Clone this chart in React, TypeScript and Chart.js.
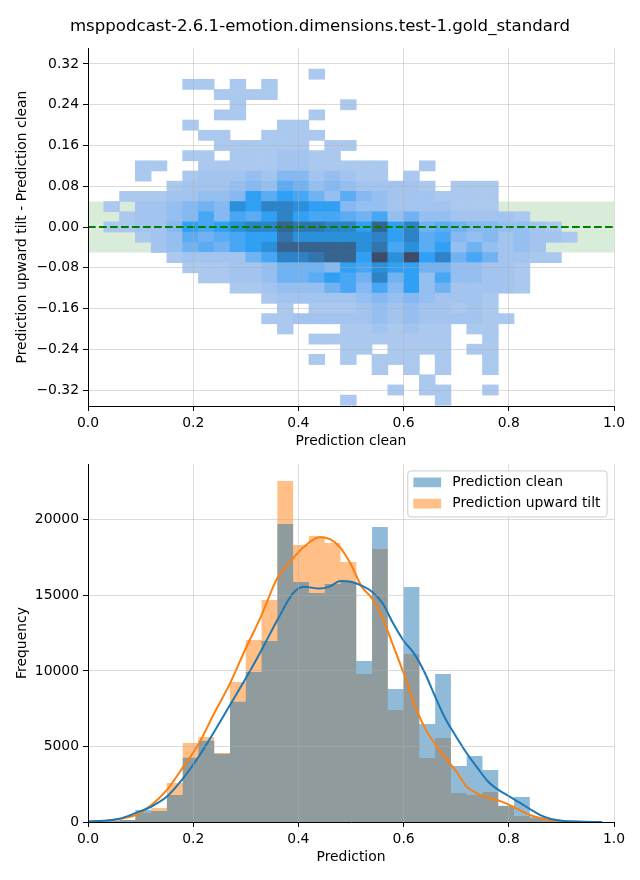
import React, { useEffect, useRef } from "react";
import { Chart, registerables } from "chart.js";

Chart.register(...registerables);

// ---------------- text ----------------
const FIG_TITLE = "msppodcast-2.6.1-emotion.dimensions.test-1.gold_standard";
const HEAT_X_TITLE = "Prediction clean";
const HEAT_Y_TITLE = "Prediction upward tilt - Prediction clean";
const HIST_X_TITLE = "Prediction";
const HIST_Y_TITLE = "Frequency";
const SERIES_LABELS = ["Prediction clean", "Prediction upward tilt"];

// ---------------- ticks ----------------
const xTickValues = [0, 0.2, 0.4, 0.6, 0.8, 1.0];
const diffTickValues = [-0.32, -0.24, -0.16, -0.08, 0, 0.08, 0.16, 0.24, 0.32];
const freqTickValues = [0, 5000, 10000, 15000, 20000];

// ---------------- bins ----------------
const predBinWidth = 0.03; // width of a prediction bin
const diffBinHeight = 0.02; // height of a difference bin
const toleranceBand = [-0.05, 0.05];
const diffRange = [-0.3514, 0.3514];
const freqMax = 23700;

// difference-bin index (centre = index * diffBinHeight), one row of heatLevels each
const diffRowIndex = [15, 14, 13, 12, 11, 10, 9, 8, 7, 6, 5, 4, 3, 2, 1, 0, -1, -2, -3, -4, -5, -6, -7, -8, -9, -10, -11, -12, -13, -14, -15, -16, -17];

// density level (0 = empty) per prediction bin k = 0..30
const heatLevels: number[][] = [
  [0,0,0,0,0,0,0,0,0,0,0,0,0,0,1,0,0,0,0,0,0,0,0,0,0,0,0,0,0,0,0],
  [0,0,0,0,0,0,1,1,0,1,0,1,0,0,0,0,0,0,0,0,0,0,0,0,0,0,0,0,0,0,0],
  [0,0,0,0,0,0,0,0,1,1,1,1,0,0,0,0,0,0,0,0,0,0,0,0,0,0,0,0,0,0,0],
  [0,0,0,0,0,0,0,0,0,1,0,0,0,0,0,0,1,0,0,0,0,0,0,0,0,0,0,0,0,0,0],
  [0,0,0,0,0,0,0,0,1,1,0,0,0,0,1,0,0,0,0,0,0,0,0,0,0,0,0,0,0,0,0],
  [0,0,0,0,0,0,1,0,0,0,0,0,1,1,0,0,0,0,0,0,0,0,0,0,0,0,0,0,0,0,0],
  [0,0,0,0,0,0,0,1,1,0,0,1,1,1,1,0,0,0,0,0,0,0,0,0,0,0,0,0,0,0,0],
  [0,0,0,0,0,0,0,0,1,1,1,1,1,1,0,1,1,0,0,0,0,0,0,0,0,0,0,0,0,0,0],
  [0,0,0,0,0,0,1,1,0,1,1,1,2,2,1,1,0,0,0,0,0,0,0,0,0,0,0,0,0,0,0],
  [0,0,0,1,1,0,0,1,1,1,1,1,2,2,1,1,1,1,1,0,0,1,0,0,0,0,0,0,0,0,0],
  [0,0,0,1,0,0,1,2,2,2,3,2,4,4,2,3,2,1,1,0,1,0,0,0,0,0,0,0,0,0,0],
  [0,0,0,0,0,1,2,2,2,3,4,3,6,5,3,4,3,2,2,2,2,1,0,1,1,1,0,0,0,0,0],
  [0,0,1,1,1,2,2,3,3,4,8,6,8,7,5,3,6,4,3,2,2,2,1,1,1,1,0,0,0,0,0],
  [0,1,0,2,2,3,4,5,4,9,8,10,10,9,8,8,4,3,3,2,2,2,2,1,1,1,0,0,0,0,0],
  [0,0,1,2,2,3,4,7,4,7,6,8,10,8,7,7,6,5,7,3,5,3,3,2,2,2,2,1,0,0,0],
  [0,1,1,2,2,4,8,7,8,9,10,10,12,11,11,10,10,8,12,8,10,5,6,5,4,4,3,3,2,1,0],
  [0,0,0,1,2,3,6,5,6,7,8,8,11,9,9,9,9,9,10,8,10,6,7,4,3,4,2,3,2,2,1],
  [0,0,0,0,2,3,5,6,5,7,8,9,12,12,12,12,12,9,11,7,9,6,8,3,5,3,2,3,2,0,0],
  [0,0,0,0,0,1,2,2,2,2,5,7,10,10,11,12,12,8,13,9,13,8,10,5,7,5,2,2,1,1,0],
  [0,0,0,0,0,0,1,1,1,2,2,3,5,5,5,4,8,7,9,8,8,5,5,3,3,2,2,1,0,0,0],
  [0,0,0,0,0,0,0,1,1,2,2,3,5,5,6,8,7,5,10,5,8,3,7,3,3,2,2,1,0,0,0],
  [0,0,0,0,0,0,0,0,0,1,1,2,3,3,3,5,7,4,7,4,8,3,5,2,2,2,2,1,0,0,0],
  [0,0,0,0,0,0,0,0,0,0,0,1,2,2,2,2,2,3,4,3,4,3,2,2,2,1,0,0,0,0,0],
  [0,0,0,0,0,0,0,0,0,0,0,0,1,0,1,1,1,2,3,2,3,2,2,1,2,1,0,0,0,0,0],
  [0,0,0,0,0,0,0,0,0,0,0,1,1,2,2,2,2,2,3,2,3,2,2,2,2,1,1,0,0,0,0],
  [0,0,0,0,0,0,0,0,0,0,0,0,1,0,0,0,1,1,2,1,2,1,1,0,1,1,0,0,0,0,0],
  [0,0,0,0,0,0,0,0,0,0,0,0,0,0,1,1,1,1,1,1,1,1,1,0,0,1,0,0,0,0,0],
  [0,0,0,0,0,0,0,0,0,0,0,0,0,0,0,0,1,1,0,1,1,1,1,0,1,1,0,0,0,0,0],
  [0,0,0,0,0,0,0,0,0,0,0,0,0,0,1,0,1,0,1,1,1,0,1,0,0,1,0,0,0,0,0],
  [0,0,0,0,0,0,0,0,0,0,0,0,0,0,0,0,0,0,1,0,1,0,1,0,0,1,0,0,0,0,0],
  [0,0,0,0,0,0,0,0,0,0,0,0,0,0,0,0,0,0,0,0,0,1,0,0,0,0,0,0,0,0,0],
  [0,0,0,0,0,0,0,0,0,0,0,0,0,0,0,0,0,0,0,1,0,1,1,0,0,1,0,0,0,0,0],
  [0,0,0,0,0,0,0,0,0,0,0,0,0,0,0,0,1,0,0,0,0,0,1,0,0,0,0,0,0,0,0],
];

// histogram counts per prediction bin k = 0..32
const histClean = [40, 90, 140, 790, 730, 1790, 4260, 5380, 4520, 7960, 9930, 11980, 19730, 15890, 15160, 15760, 15890, 10660, 19530, 8800, 15560, 6490, 9800, 3710, 4370, 3440, 1080, 1650, 350, 150, 60, 20, 5];
const histTilt = [30, 80, 130, 620, 930, 2580, 5230, 5630, 4570, 9270, 12050, 14700, 22570, 18340, 18930, 18470, 17210, 9800, 18070, 7410, 11120, 4240, 5560, 1920, 1790, 1990, 1060, 400, 250, 100, 40, 10, 5];

// kernel density curves (scaled to counts)
const kdeX = [0, 0.03, 0.06, 0.09, 0.12, 0.15, 0.18, 0.21, 0.24, 0.27, 0.30, 0.33, 0.36, 0.39, 0.41, 0.44, 0.46, 0.48, 0.50, 0.52, 0.54, 0.56, 0.58, 0.60, 0.62, 0.64, 0.66, 0.68, 0.70, 0.72, 0.74, 0.76, 0.78, 0.80, 0.82, 0.84, 0.86, 0.88, 0.90, 0.93, 0.977];
const kdeClean = [40, 80, 220, 590, 1010, 1680, 2850, 4300, 5980, 7750, 9510, 11390, 13370, 15150, 15580, 15450, 15600, 15960, 15900, 15650, 15250, 14480, 13150, 12000, 11150, 9900, 8300, 6800, 5650, 4550, 3600, 2700, 2130, 1720, 1300, 860, 450, 200, 90, 30, 0];
const kdeTilt = [30, 70, 200, 450, 1100, 2120, 3600, 5150, 7200, 9180, 11500, 13700, 16150, 17450, 18200, 18850, 18720, 18150, 17050, 15600, 14800, 13500, 11700, 9850, 7850, 6250, 5150, 4250, 3350, 2340, 1900, 1600, 1430, 1150, 800, 460, 250, 120, 60, 20, 0];

// ---------------- styles ----------------
const FONT = "'DejaVu Sans', sans-serif";
const FS = 13.9;
const GRID_COLOR = "rgba(176,176,176,0.45)";
const BLUE = "#1f77b4";
const ORANGE = "#ff7f0e";
const BLUE_FILL = "rgba(31,119,180,0.5)";
const ORANGE_FILL = "rgba(255,127,14,0.5)";
const heatPalette = ["#abc8ee", "#a2c4ef", "#95bff0", "#86b9f1", "#70b2f2", "#5cacf3", "#48a7f4", "#2fa0f3", "#2b90da", "#2e82c6", "#3274ae", "#37638f", "#3c4d6c"];

Chart.defaults.font.family = FONT;
Chart.defaults.font.size = FS;
Chart.defaults.color = "#000";

function fmtDiff(v: number) {
  const s = Math.abs(v).toFixed(2);
  return v < -1e-9 ? "\u2212" + s : s;
}

function xAxis(title: string, height: number, titlePadBottom: number) {
  return {
    type: "linear",
    min: 0,
    max: 1,
    offset: false,
    bounds: "data",
    grid: { color: GRID_COLOR, lineWidth: 1, offset: false, z: 1, drawTicks: true, tickLength: 5, tickColor: "#000", tickWidth: 1 },
    border: { display: true, color: "#000", width: 1, z: 2 },
    ticks: { color: "#000", padding: 4, autoSkip: false, maxRotation: 0, callback: (v: any) => Number(v).toFixed(1) },
    afterBuildTicks: (s: any) => { s.ticks = xTickValues.map((value) => ({ value })); },
    afterFit: (s: any) => { s.height = height; },
    title: { display: true, text: title, color: "#000", font: { size: FS }, padding: { top: 0, bottom: titlePadBottom } },
  };
}

function yAxis(title: string, min: number, max: number, ticks: number[], fmt: (v: number) => string, hideZeroGrid: boolean) {
  return {
    type: "linear",
    min,
    max,
    bounds: "data",
    grid: {
      color: (c: any) => (hideZeroGrid && c.tick && Math.abs(c.tick.value) < 1e-9 ? "rgba(0,0,0,0)" : GRID_COLOR),
      lineWidth: 1, z: 1, drawTicks: true, tickLength: 5, tickColor: "#000", tickWidth: 1,
    },
    border: { display: true, color: "#000", width: 1, z: 2 },
    ticks: { color: "#000", padding: 4, autoSkip: false, callback: (v: any) => fmt(Number(v)) },
    afterBuildTicks: (s: any) => { s.ticks = ticks.map((value) => ({ value })); },
    afterFit: (s: any) => { s.width = 88; },
    title: { display: true, text: title, color: "#000", font: { size: FS }, padding: { top: 13.7, bottom: 0 } },
  };
}

// figure-level title, centred on the whole figure width
const figTitle = {
  id: "figTitle",
  afterDraw(chart: any) {
    const { ctx } = chart;
    ctx.save();
    ctx.font = `16.6px ${FONT}`;
    ctx.fillStyle = "#000";
    ctx.textAlign = "center";
    ctx.textBaseline = "middle";
    ctx.fillText(FIG_TITLE, chart.width / 2, 27);
    ctx.restore();
  },
};

const mplLegend = {
  id: "mplLegend",
  afterDraw(chart: any) {
    const { ctx, chartArea } = chart;
    const items = chart.data.datasets.filter((d: any) => SERIES_LABELS.includes(d.label));
    ctx.save();
    ctx.font = `${FS}px ${FONT}`;
    const textW = Math.max(...items.map((d: any) => ctx.measureText(d.label).width));
    const pad = 0.4 * FS;
    const handleW = 2 * FS;
    const handleH = 0.7 * FS;
    const gap = 0.8 * FS;
    const w = pad + handleW + gap + textW + pad + 1;
    const h = 46;
    const right = chartArea.right - 0.5 * FS;
    const top = chartArea.top + 0.5 * FS;
    const left = right - w;
    const r = 3;
    ctx.beginPath();
    ctx.moveTo(left + r, top);
    ctx.lineTo(right - r, top);
    ctx.quadraticCurveTo(right, top, right, top + r);
    ctx.lineTo(right, top + h - r);
    ctx.quadraticCurveTo(right, top + h, right - r, top + h);
    ctx.lineTo(left + r, top + h);
    ctx.quadraticCurveTo(left, top + h, left, top + h - r);
    ctx.lineTo(left, top + r);
    ctx.quadraticCurveTo(left, top, left + r, top);
    ctx.closePath();
    ctx.fillStyle = "rgba(255,255,255,0.8)";
    ctx.fill();
    ctx.strokeStyle = "#cccccc";
    ctx.lineWidth = 1;
    ctx.stroke();
    items.forEach((d: any, i: number) => {
      const cy = top + 11.4 + i * 21.3;
      ctx.fillStyle = d.backgroundColor;
      ctx.fillRect(left + pad, cy - handleH / 2, handleW, handleH);
      ctx.fillStyle = "#000";
      ctx.textBaseline = "middle";
      ctx.textAlign = "left";
      ctx.fillText(d.label, left + pad + handleW + gap, cy);
    });
    ctx.restore();
  },
};

function buildHeat() {
  const data: any[] = [];
  const colors: string[] = [];
  diffRowIndex.forEach((j, r) => {
    heatLevels[r].forEach((lvl, k) => {
      if (lvl > 0) {
        data.push({ x: (k + 0.5) * predBinWidth, y: [(j - 0.5) * diffBinHeight, (j + 0.5) * diffBinHeight] });
        colors.push(heatPalette[lvl - 1]);
      }
    });
  });
  return { data, colors };
}

// histogram as a stepped outline: one point per bin's left edge, plus the final right edge
function histSteps(counts: number[]) {
  const pts = counts.map((y, k) => ({ x: k * predBinWidth, y }));
  pts.push({ x: counts.length * predBinWidth, y: counts[counts.length - 1] });
  return pts;
}

function topConfig(): any {
  const heat = buildHeat();
  return {
    type: "bar",
    data: {
      datasets: [
        {
          type: "line", label: "zero", data: [{ x: 0, y: 0 }, { x: 1, y: 0 }],
          borderColor: "#008000", borderWidth: 2.1, borderDash: [7.7, 3.3], pointRadius: 0, fill: false, order: 0,
        },
        {
          type: "bar", label: "density", data: heat.data, backgroundColor: heat.colors,
          borderWidth: 0, barPercentage: 1, categoryPercentage: 1, grouped: false, order: 1,
        },
        {
          type: "line", label: "band", data: [{ x: 0, y: toleranceBand[1] }, { x: 1, y: toleranceBand[1] }],
          borderColor: "rgba(0,0,0,0)", borderWidth: 0, pointRadius: 0,
          backgroundColor: "rgba(0,128,0,0.15)", fill: { value: toleranceBand[0] }, order: 2,
        },
      ],
    },
    options: {
      responsive: false,
      maintainAspectRatio: false,
      animation: false,
      events: [],
      layout: { padding: { left: 0, right: 26, top: 48, bottom: 0 } },
      plugins: { legend: { display: false }, tooltip: { enabled: false }, title: { display: false } },
      scales: {
        x: xAxis(HEAT_X_TITLE, 54, 10.7),
        y: yAxis(HEAT_Y_TITLE, diffRange[0], diffRange[1], diffTickValues, fmtDiff, true),
      },
    },
    plugins: [figTitle],
  };
}

function bottomConfig(): any {
  return {
    type: "line",
    data: {
      datasets: [
        {
          label: "kde clean", data: kdeX.map((x, i) => ({ x, y: kdeClean[i] })),
          borderColor: BLUE, borderWidth: 2, pointRadius: 0, cubicInterpolationMode: "monotone", fill: false, order: 0,
        },
        {
          label: "kde tilt", data: kdeX.map((x, i) => ({ x, y: kdeTilt[i] })),
          borderColor: ORANGE, borderWidth: 2, pointRadius: 0, cubicInterpolationMode: "monotone", fill: false, order: 1,
        },
        {
          label: SERIES_LABELS[0], data: histSteps(histClean), stepped: "before",
          backgroundColor: BLUE_FILL, borderColor: "rgba(0,0,0,0)", borderWidth: 0, pointRadius: 0, fill: "origin", order: 2,
        },
        {
          label: SERIES_LABELS[1], data: histSteps(histTilt), stepped: "before",
          backgroundColor: ORANGE_FILL, borderColor: "rgba(0,0,0,0)", borderWidth: 0, pointRadius: 0, fill: "origin", order: 3,
        },
      ],
    },
    options: {
      responsive: false,
      maintainAspectRatio: false,
      animation: false,
      events: [],
      layout: { padding: { left: 0, right: 26, top: 24, bottom: 0 } },
      plugins: { legend: { display: false }, tooltip: { enabled: false }, title: { display: false } },
      scales: {
        x: xAxis(HIST_X_TITLE, 58, 14.7),
        y: yAxis(HIST_Y_TITLE, 0, freqMax, freqTickValues, (v) => String(Math.round(v)), false),
      },
    },
    plugins: [mplLegend],
  };
}

export default function App() {
  const topRef = useRef<HTMLCanvasElement>(null);
  const botRef = useRef<HTMLCanvasElement>(null);
  useEffect(() => {
    const c1 = new Chart(topRef.current as HTMLCanvasElement, topConfig());
    const c2 = new Chart(botRef.current as HTMLCanvasElement, bottomConfig());
    return () => {
      c1.destroy();
      c2.destroy();
    };
  }, []);
  return (
    <div style={{ position: "absolute", left: 0, top: 0, width: 640, height: 880, background: "#fff", overflow: "hidden" }}>
      <canvas ref={topRef} width={640} height={460} style={{ position: "absolute", left: 0, top: 0, width: 640, height: 460 }} />
      <canvas ref={botRef} width={640} height={440} style={{ position: "absolute", left: 0, top: 440, width: 640, height: 440 }} />
    </div>
  );
}
